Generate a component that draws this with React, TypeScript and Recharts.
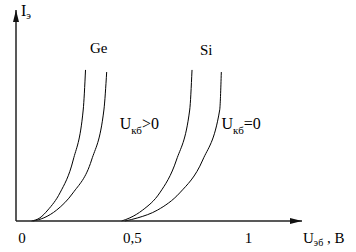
import React from 'react';
import { LineChart, Line, XAxis, YAxis, ReferenceDot } from 'recharts';

// emitter current vs emitter-base voltage, Ge and Si, U_kb > 0 and U_kb = 0
const uGe1 = [0.067, 0.103, 0.137, 0.189, 0.246, 0.289, 0.299];
const iGe1 = [0, 0.15, 0.52, 1.33, 2.89, 5.26, 7.16];
const uGe2 = [0.073, 0.12, 0.175, 0.245, 0.325, 0.378, 0.39];
const iGe2 = [0, 0.15, 0.52, 1.33, 2.89, 5.26, 7.06];
const uSi1 = [0.454, 0.49, 0.545, 0.618, 0.69, 0.747, 0.757];
const iSi1 = [0, 0.15, 0.52, 1.33, 2.89, 5.26, 7.16];
const uSi2 = [0.468, 0.524, 0.609, 0.704, 0.803, 0.876, 0.883];
const iSi2 = [0, 0.15, 0.52, 1.33, 2.89, 5.26, 7.06];

const xTicks = [0, 0.5, 1];
const xTickLabels = ['0', '0,5', '1'];

const toPoints = (u: number[], i: number[]) => u.map((v, k) => ({ u: v, i: i[k] }));

const serif = (size: number): React.CSSProperties => ({
  fontFamily: '"Liberation Serif", "DejaVu Serif", serif',
  fontSize: size,
  fill: '#000',
});

const XTick = ({ x, y, payload }: any) => {
  const idx = xTicks.indexOf(payload.value);
  return (
    <text x={x + (payload.value === 0 ? 6 : 0)} y={y} dy={14} textAnchor="middle" style={serif(15)}>
      {xTickLabels[idx]}
    </text>
  );
};

const XTitle = ({ viewBox }: any) => (
  <text x={viewBox.x + viewBox.width + 1} y={243} style={serif(15)}>
    U<tspan style={{ fontSize: 10 }} dy={3}>эб</tspan>
    <tspan dy={-3}> , B</tspan>
  </text>
);

const YTitle = ({ viewBox }: any) => (
  <text x={viewBox.x + viewBox.width + 5} y={16} style={serif(16)}>
    I<tspan style={{ fontSize: 11 }} dy={3}>э</tspan>
  </text>
);

const Tag = (text: string) => (p: any) => (
  <text x={p.cx} y={p.cy} textAnchor="middle" style={serif(15)}>{text}</text>
);

const Ukb = (rest: string) => (p: any) => (
  <text x={p.cx} y={p.cy} style={serif(16)}>
    U<tspan style={{ fontSize: 11 }} dy={5}>кб</tspan>
    <tspan dy={-5}>{rest}</tspan>
  </text>
);

export default function App() {
  return (
    <div style={{ position: 'absolute', left: 0, top: 0, background: '#fff' }}>
      <LineChart width={356} height={252} margin={{ top: 10, right: 54, left: 0, bottom: 1 }}>
        <defs>
          <marker id="arr" viewBox="0 0 12 6" refX={12} refY={3} markerWidth={12} markerHeight={6} markerUnits="userSpaceOnUse" orient="auto-start-reverse">
            <path d="M0,0 L12,3 L0,6 z" fill="#111" />
          </marker>
        </defs>
        <XAxis
          type="number"
          dataKey="u"
          domain={[0, 1.23]}
          ticks={xTicks}
          tick={<XTick />}
          tickLine={false}
          height={30}
          axisLine={{ stroke: '#222', strokeWidth: 1.5, markerEnd: 'url(#arr)' }}
          label={{ content: <XTitle /> }}
          allowDataOverflow
        />
        <YAxis
          type="number"
          dataKey="i"
          domain={[0, 10]}
          width={16}
          tick={false}
          tickLine={false}
          axisLine={{ stroke: '#222', strokeWidth: 1.5, markerStart: 'url(#arr)' }}
          label={{ content: <YTitle /> }}
        />
        <Line data={toPoints(uGe1, iGe1)} dataKey="i" type="monotone" stroke="#000" strokeWidth={1} dot={false} isAnimationActive={false} />
        <Line data={toPoints(uGe2, iGe2)} dataKey="i" type="monotone" stroke="#000" strokeWidth={1} dot={false} isAnimationActive={false} />
        <Line data={toPoints(uSi1, iSi1)} dataKey="i" type="monotone" stroke="#000" strokeWidth={1} dot={false} isAnimationActive={false} />
        <Line data={toPoints(uSi2, iSi2)} dataKey="i" type="monotone" stroke="#000" strokeWidth={1} dot={false} isAnimationActive={false} />
        <ReferenceDot x={0.356} y={7.94} r={0} ifOverflow="visible" shape={Tag('Ge')} />
        <ReferenceDot x={0.818} y={7.89} r={0} ifOverflow="visible" shape={Tag('Si')} />
        <ReferenceDot x={0.446} y={4.36} r={0} ifOverflow="visible" shape={Ukb('>0')} />
        <ReferenceDot x={0.884} y={4.36} r={0} ifOverflow="visible" shape={Ukb('=0')} />
      </LineChart>
    </div>
  );
}
